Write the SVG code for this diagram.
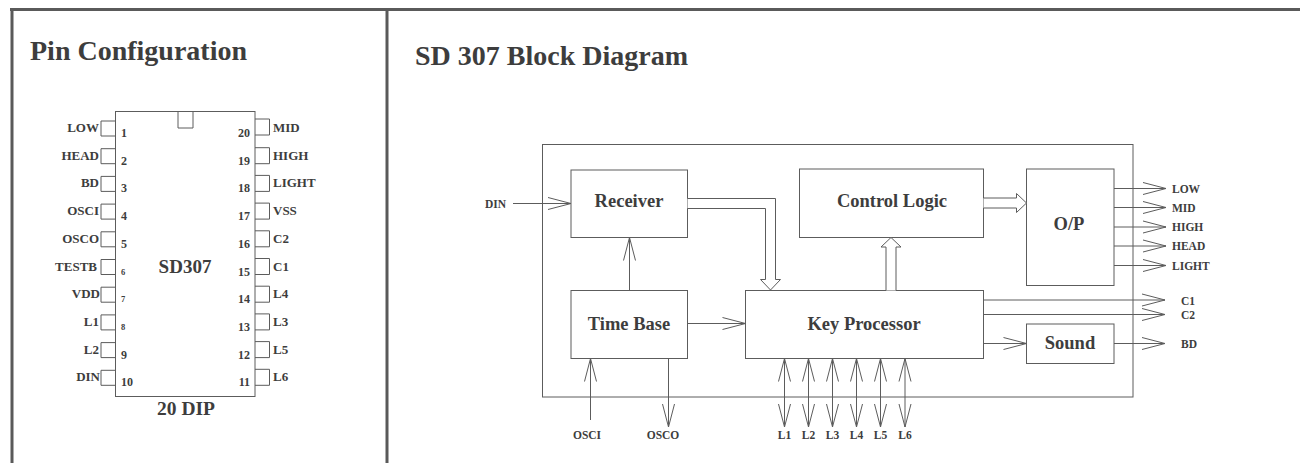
<svg xmlns="http://www.w3.org/2000/svg" width="1300" height="463" viewBox="0 0 1300 463">
<style>
.frame{stroke:#5a5a5a;stroke-width:3;fill:none}
.ln{stroke:#5c5c5c;stroke-width:1;fill:none}
.box{fill:#fff;stroke:#5c5c5c;stroke-width:1}
.hollow{fill:#fff;stroke:#5c5c5c;stroke-width:1;stroke-linejoin:miter}
text{font-family:"Liberation Serif","Times New Roman",serif;font-weight:bold;fill:#3d3d3d}
.title{font-size:28px}
.blk{font-size:18.5px;text-anchor:middle}
.pl{font-size:13px}
.pn{font-size:12px}
.pns{font-size:8.5px}
.sl{font-size:11.5px}
.slc{font-size:11.5px;text-anchor:middle}
.arr{stroke:#5c5c5c;stroke-width:1;fill:none;marker-end:url(#oa)}
.arr2{stroke:#5c5c5c;stroke-width:1;fill:none;marker-end:url(#oa);marker-start:url(#oa)}
</style>
<defs>
<marker id="oa" markerUnits="userSpaceOnUse" viewBox="0 0 24 13" markerWidth="24" markerHeight="13" refX="23" refY="6.5" orient="auto-start-reverse" overflow="visible">
<path d="M0,0.5 L23,6.5 L0,12.5" fill="none" stroke="#5c5c5c" stroke-width="1"/>
</marker>
</defs>
<rect width="1300" height="463" fill="#fff"/>

<g id="frame">
<path class="frame" d="M10,9.5 H1300 M12,8 V463 M387,8 V463"/>
</g>

<g id="pin-config">
<text class="title" x="30" y="60">Pin Configuration</text>
<g id="chip">
<rect class="box" x="115.5" y="111.5" width="139.5" height="285"/>
<path class="ln" d="M178,112 V128 H193 V112"/>
<text x="185" y="273" font-size="19" text-anchor="middle">SD307</text>
<text x="186" y="415" font-size="19.5" text-anchor="middle">20 DIP</text>
</g>
<g id="pin1"><path class="ln" d="M115.5,121 H101 V136 H115.5"/><text class="pl" x="99" y="132" text-anchor="end">LOW</text><text class="pn" x="121" y="137">1</text></g>
<g id="pin2"><path class="ln" d="M115.5,148.7 H101 V163.7 H115.5"/><text class="pl" x="99" y="159.7" text-anchor="end">HEAD</text><text class="pn" x="121" y="164.7">2</text></g>
<g id="pin3"><path class="ln" d="M115.5,176.4 H101 V191.4 H115.5"/><text class="pl" x="99" y="187.4" text-anchor="end">BD</text><text class="pn" x="121" y="192.4">3</text></g>
<g id="pin4"><path class="ln" d="M115.5,204.1 H101 V219.1 H115.5"/><text class="pl" x="99" y="215.1" text-anchor="end">OSCI</text><text class="pn" x="121" y="220.1">4</text></g>
<g id="pin5"><path class="ln" d="M115.5,231.8 H101 V246.8 H115.5"/><text class="pl" x="99" y="242.8" text-anchor="end">OSCO</text><text class="pn" x="121" y="247.8">5</text></g>
<g id="pin6"><path class="ln" d="M115.5,259.5 H101 V274.5 H115.5"/><text class="pl" x="97" y="270.5" text-anchor="end" font-size="12">TESTB</text><text class="pns" x="121" y="274.5">6</text></g>
<g id="pin7"><path class="ln" d="M115.5,287.2 H101 V302.2 H115.5"/><text class="pl" x="100" y="298.2" text-anchor="end">VDD</text><text class="pns" x="121" y="302.2">7</text></g>
<g id="pin8"><path class="ln" d="M115.5,314.9 H101 V329.9 H115.5"/><text class="pl" x="99" y="325.9" text-anchor="end">L1</text><text class="pns" x="121" y="329.9">8</text></g>
<g id="pin9"><path class="ln" d="M115.5,342.6 H101 V357.6 H115.5"/><text class="pl" x="99" y="353.6" text-anchor="end">L2</text><text class="pn" x="121" y="358.6">9</text></g>
<g id="pin10"><path class="ln" d="M115.5,370.3 H101 V385.3 H115.5"/><text class="pl" x="100" y="381.3" text-anchor="end">DIN</text><text class="pn" x="121" y="386.3">10</text></g>
<g id="pin20"><path class="ln" d="M255,119 H269.5 V135 H255"/><text class="pl" x="273" y="132">MID</text><text class="pn" x="250" y="137" text-anchor="end">20</text></g>
<g id="pin19"><path class="ln" d="M255,147.7 H269.5 V163.7 H255"/><text class="pl" x="273" y="159.7">HIGH</text><text class="pn" x="250" y="164.7" text-anchor="end">19</text></g>
<g id="pin18"><path class="ln" d="M255,175.4 H269.5 V191.4 H255"/><text class="pl" x="273" y="187.4">LIGHT</text><text class="pn" x="250" y="192.4" text-anchor="end">18</text></g>
<g id="pin17"><path class="ln" d="M255,203.1 H269.5 V219.1 H255"/><text class="pl" x="273" y="215.1">VSS</text><text class="pn" x="250" y="220.1" text-anchor="end">17</text></g>
<g id="pin16"><path class="ln" d="M255,230.8 H269.5 V246.8 H255"/><text class="pl" x="273" y="242.8">C2</text><text class="pn" x="250" y="247.8" text-anchor="end">16</text></g>
<g id="pin15"><path class="ln" d="M255,258.5 H269.5 V274.5 H255"/><text class="pl" x="273" y="270.5">C1</text><text class="pn" x="250" y="275.5" text-anchor="end">15</text></g>
<g id="pin14"><path class="ln" d="M255,286.2 H269.5 V302.2 H255"/><text class="pl" x="273" y="298.2">L4</text><text class="pn" x="250" y="303.2" text-anchor="end">14</text></g>
<g id="pin13"><path class="ln" d="M255,313.9 H269.5 V329.9 H255"/><text class="pl" x="273" y="325.9">L3</text><text class="pn" x="250" y="330.9" text-anchor="end">13</text></g>
<g id="pin12"><path class="ln" d="M255,341.6 H269.5 V357.6 H255"/><text class="pl" x="273" y="353.6">L5</text><text class="pn" x="250" y="358.6" text-anchor="end">12</text></g>
<g id="pin11"><path class="ln" d="M255,369.3 H269.5 V385.3 H255"/><text class="pl" x="273" y="381.3">L6</text><text class="pn" x="250" y="386.3" text-anchor="end">11</text></g>
</g>

<g id="block-diagram">
<text class="title" x="415" y="65" font-size="29">SD 307 Block Diagram</text>
<rect id="chip-outline" class="ln" x="542.5" y="144.5" width="590.5" height="252.5"/>

<g id="receiver"><rect class="box" x="571" y="170" width="116.5" height="67.5"/><text class="blk" x="629" y="207">Receiver</text></g>
<g id="control-logic"><rect class="box" x="799.5" y="169" width="184" height="68.5"/><text class="blk" x="892" y="207">Control Logic</text></g>
<g id="op"><rect class="box" x="1026.5" y="169" width="87.5" height="116.5"/><text class="blk" x="1069" y="230" font-size="19">O/P</text></g>
<g id="time-base"><rect class="box" x="571" y="290.5" width="116.5" height="68"/><text class="blk" x="629" y="330">Time Base</text></g>
<g id="key-processor"><rect class="box" x="745.5" y="290.5" width="238" height="68"/><text class="blk" x="864" y="330">Key Processor</text></g>
<g id="sound"><rect class="box" x="1026.5" y="324" width="87.5" height="39.5"/><text class="blk" x="1070" y="349">Sound</text></g>

<g id="connectors">
<path class="hollow" d="M687.5,198.5 H775.5 V279.5 H780.5 L770.5,290 L760.5,279.5 H765.5 V208.5 H687.5"/>
<path class="hollow" d="M886,290.5 V247 H881 L891,237.5 L901,247 H896 V290.5"/>
<path class="hollow" d="M983.5,198 H1016.5 V193.5 L1026.5,203 L1016.5,212.5 V208 H983.5"/>

<path class="arr" d="M513,203.5 H571"/>
<path class="arr" d="M629.5,290.5 V237.5"/>
<path class="arr" d="M687.5,323.5 H745.5"/>
<path class="arr" d="M590.5,420 V358.5"/>
<path class="arr" d="M668.5,358.5 V427"/>

<path class="arr2" d="M784.5,358.5 V427"/>
<path class="arr2" d="M808.5,358.5 V427"/>
<path class="arr2" d="M832.5,358.5 V427"/>
<path class="arr2" d="M856.5,358.5 V427"/>
<path class="arr2" d="M880.5,358.5 V427"/>
<path class="arr2" d="M905,358.5 V427"/>

<path class="arr" d="M1114,188.5 H1166"/>
<path class="arr" d="M1114,207.5 H1166"/>
<path class="arr" d="M1114,227 H1166"/>
<path class="arr" d="M1114,246 H1166"/>
<path class="arr" d="M1114,265.5 H1166"/>

<path class="arr" d="M983.5,300 H1165"/>
<path class="arr" d="M983.5,314.5 H1165"/>
<path class="arr" d="M983.5,343.5 H1026.5"/>
<path class="arr" d="M1114,343.5 H1165"/>
</g>

<g id="signal-labels">
<text class="sl" x="485" y="207.5">DIN</text>
<text class="sl" x="1172" y="192.5">LOW</text>
<text class="sl" x="1172" y="211.5">MID</text>
<text class="sl" x="1172" y="231">HIGH</text>
<text class="sl" x="1172" y="250">HEAD</text>
<text class="sl" x="1172" y="269.5">LIGHT</text>
<text class="sl" x="1181" y="305">C1</text>
<text class="sl" x="1181" y="319">C2</text>
<text class="sl" x="1181" y="347.5">BD</text>
<text class="slc" x="587" y="439">OSCI</text>
<text class="slc" x="663" y="439">OSCO</text>
<text class="slc" x="784.5" y="439">L1</text>
<text class="slc" x="808.5" y="439">L2</text>
<text class="slc" x="832.5" y="439">L3</text>
<text class="slc" x="856.5" y="439">L4</text>
<text class="slc" x="880.5" y="439">L5</text>
<text class="slc" x="905" y="439">L6</text>
</g>
</g>
</svg>
